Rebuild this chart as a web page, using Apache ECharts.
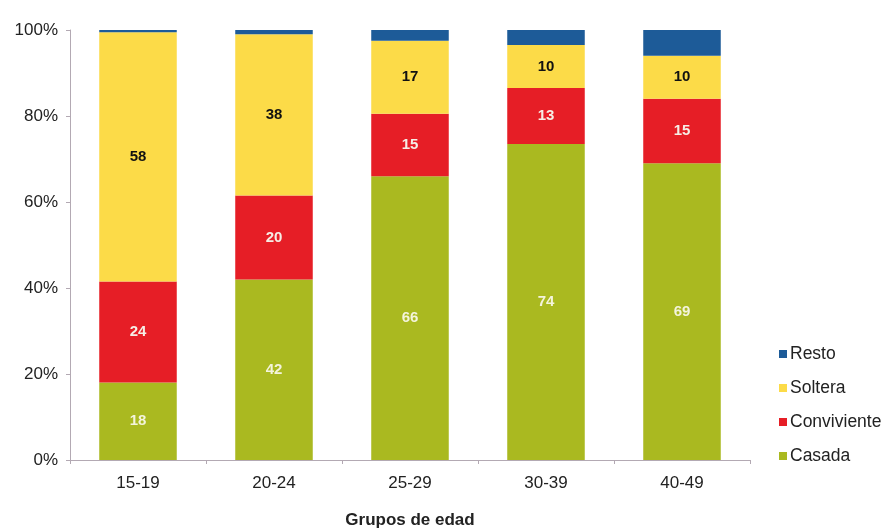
<!DOCTYPE html>
<html><head><meta charset="utf-8">
<script src="https://cdn.jsdelivr.net/npm/echarts@6/dist/echarts.min.js"></script>
<style>html,body{margin:0;padding:0;background:#fff}#c{width:890px;height:531px}</style>
</head><body><div id="c"></div>
<script>
const categories = ['15-19','20-24','25-29','30-39','40-49'];
const casada = [18, 42, 66, 73.5, 69];
const conviviente = [23.5, 19.5, 14.5, 13, 15];
const soltera = [58, 37.5, 17, 10, 10];
const resto = [0.5, 1, 2.5, 3.5, 6];
const yTicks = ['0%','20%','40%','60%','80%','100%'];

const chart = echarts.init(document.getElementById('c'), null, {renderer:'canvas'});
const font = 'Liberation Sans, Arial, sans-serif';
function lbl(color){
  return {show:true, position:'inside', color:color, fontFamily:font, fontWeight:900, fontSize:15,
    formatter: p => Math.round(p.value)};
}
chart.setOption({
  animation:false,
  grid:{left:70, right:140, top:30, bottom:71, containLabel:false, outerBoundsMode:'none'},
  legend:{
    orient:'vertical', left:774, top:340, itemWidth:8, itemHeight:8, itemGap:16, icon:'rect',
    textStyle:{fontFamily:font, fontSize:17.5, color:'#222', padding:[0,0,0,-2]},
    data:['Resto','Soltera','Conviviente','Casada']
  },
  xAxis:{
    type:'category', data:categories,
    name:'Grupos de edad', nameLocation:'middle', nameGap:52,
    nameTextStyle:{fontFamily:font, fontSize:17, fontWeight:'bold', color:'#222'},
    axisLine:{lineStyle:{color:'#b3a9b3'}},
    axisTick:{show:true, alignWithLabel:false, length:4, lineStyle:{color:'#b3a9b3'}},
    axisLabel:{fontFamily:font, fontSize:17, color:'#222', margin:15}
  },
  yAxis:{
    type:'value', min:0, max:100, interval:20,
    axisLine:{show:true, lineStyle:{color:'#b3a9b3'}},
    axisTick:{show:true, length:4, lineStyle:{color:'#b3a9b3'}},
    splitLine:{show:false},
    axisLabel:{fontFamily:font, fontSize:17, color:'#222', margin:12,
      formatter: v => yTicks[Math.round(v/20)]}
  },
  series:[
    {name:'Casada', type:'bar', stack:'t', data:casada, barWidth:'57%', itemStyle:{color:'#aab920'}, label:lbl('#f4f4dc')},
    {name:'Conviviente', type:'bar', stack:'t', data:conviviente, itemStyle:{color:'#e61e26'}, label:lbl('#f6eee6')},
    {name:'Soltera', type:'bar', stack:'t', data:soltera, itemStyle:{color:'#fcdb48'}, label:lbl('#111')},
    {name:'Resto', type:'bar', stack:'t', data:resto, itemStyle:{color:'#1d5b98'}, label:{show:false}}
  ]
});
</script></body></html>
